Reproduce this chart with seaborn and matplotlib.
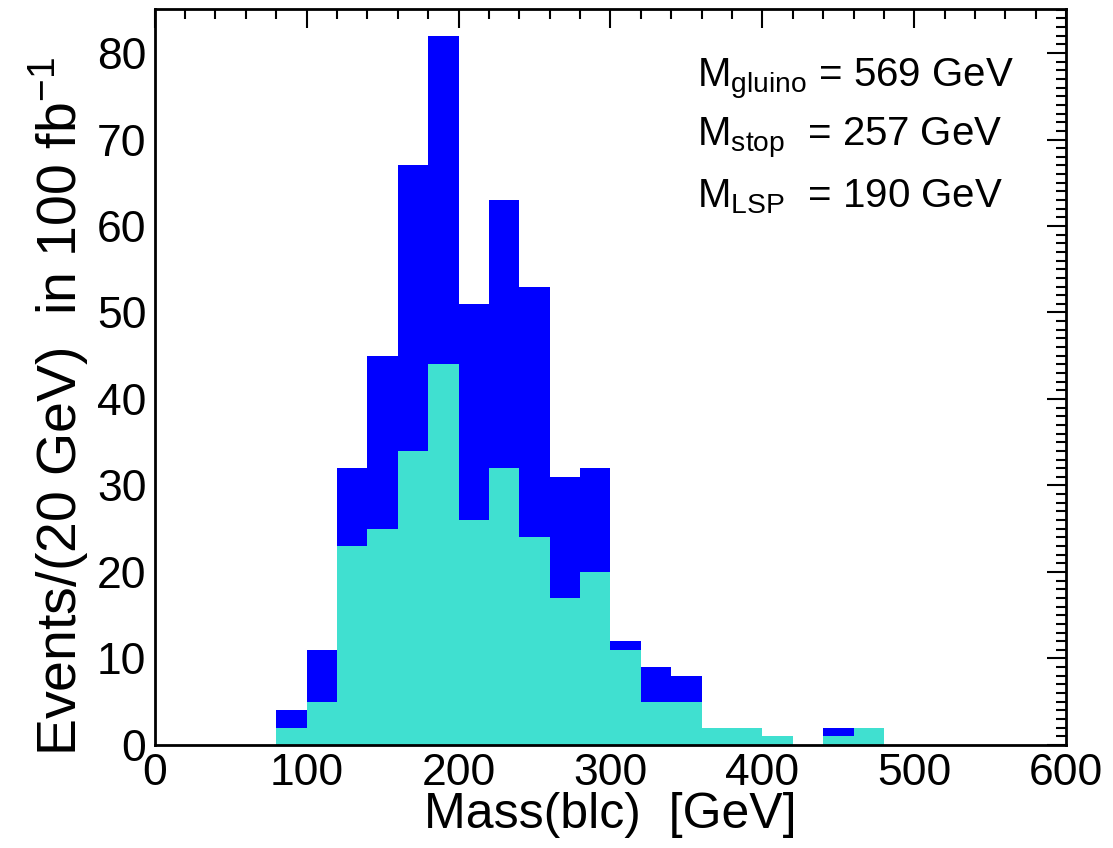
import numpy as np
import pandas as pd
import matplotlib
matplotlib.use("Agg")
import matplotlib.pyplot as plt
import seaborn as sns
from matplotlib.ticker import MultipleLocator

# bin left edges (20 GeV bins) and counts
bin_low = [80, 100, 120, 140, 160, 180, 200, 220, 240, 260, 280, 300, 320, 340, 360, 380, 400, 420, 440, 460]
total = [4, 11, 32, 45, 67, 82, 51, 63, 53, 31, 32, 12, 9, 8, 2, 2, 1, 0, 2, 2]
subset = [2, 5, 23, 25, 34, 44, 26, 32, 24, 17, 20, 11, 5, 5, 2, 2, 1, 0, 1, 2]

df = pd.DataFrame({"mass": np.array(bin_low) + 10, "total": total, "subset": subset})

sns.set_style("white")
plt.rcParams["font.family"] = ["Liberation Sans", "DejaVu Sans"]
plt.rcParams["text.color"] = "black"
plt.rcParams["axes.labelcolor"] = "black"

fig = plt.figure(figsize=(11.13, 8.48), dpi=100)
ax = fig.add_axes([0.139, 0.1215, 0.819, 0.868])

sns.histplot(data=df, x="mass", weights="total", binwidth=20, binrange=(0, 600),
             color="#0000ff", alpha=1, linewidth=0, element="bars", ax=ax)
sns.histplot(data=df, x="mass", weights="subset", binwidth=20, binrange=(0, 600),
             color="#40e0d0", alpha=1, linewidth=0, element="bars", ax=ax)

ax.set_xlim(0, 600)
ax.set_ylim(0, 85.1)
ax.xaxis.set_major_locator(MultipleLocator(100))
ax.xaxis.set_minor_locator(MultipleLocator(20))
ax.yaxis.set_major_locator(MultipleLocator(10))
ax.yaxis.set_minor_locator(MultipleLocator(1))
ax.tick_params(which="both", direction="in", top=True, right=True, width=1.5,
               labelsize=32, colors="black")
ax.tick_params(which="major", length=14, pad=6)
ax.tick_params(which="minor", length=7)
for s in ax.spines.values():
    s.set_linewidth(2)
    s.set_color("black")

ax.set_xlabel("Mass(blc)  [GeV]", fontsize=36, labelpad=-2)
ax.set_ylabel("Events/(20 GeV)  in 100 fb$^{\\mathregular{-1}}$", fontsize=40, labelpad=4,
              y=0.46)

ax.text(0.595, 0.905, r"M$_{\mathregular{gluino}}$ = 569 GeV", transform=ax.transAxes,
        fontsize=29, va="center")
ax.text(0.595, 0.825, r"M$_{\mathregular{stop}}$  = 257 GeV", transform=ax.transAxes,
        fontsize=29, va="center")
ax.text(0.595, 0.745, r"M$_{\mathregular{LSP}}$  = 190 GeV", transform=ax.transAxes,
        fontsize=29, va="center")

fig.savefig("out.png", dpi=100)
